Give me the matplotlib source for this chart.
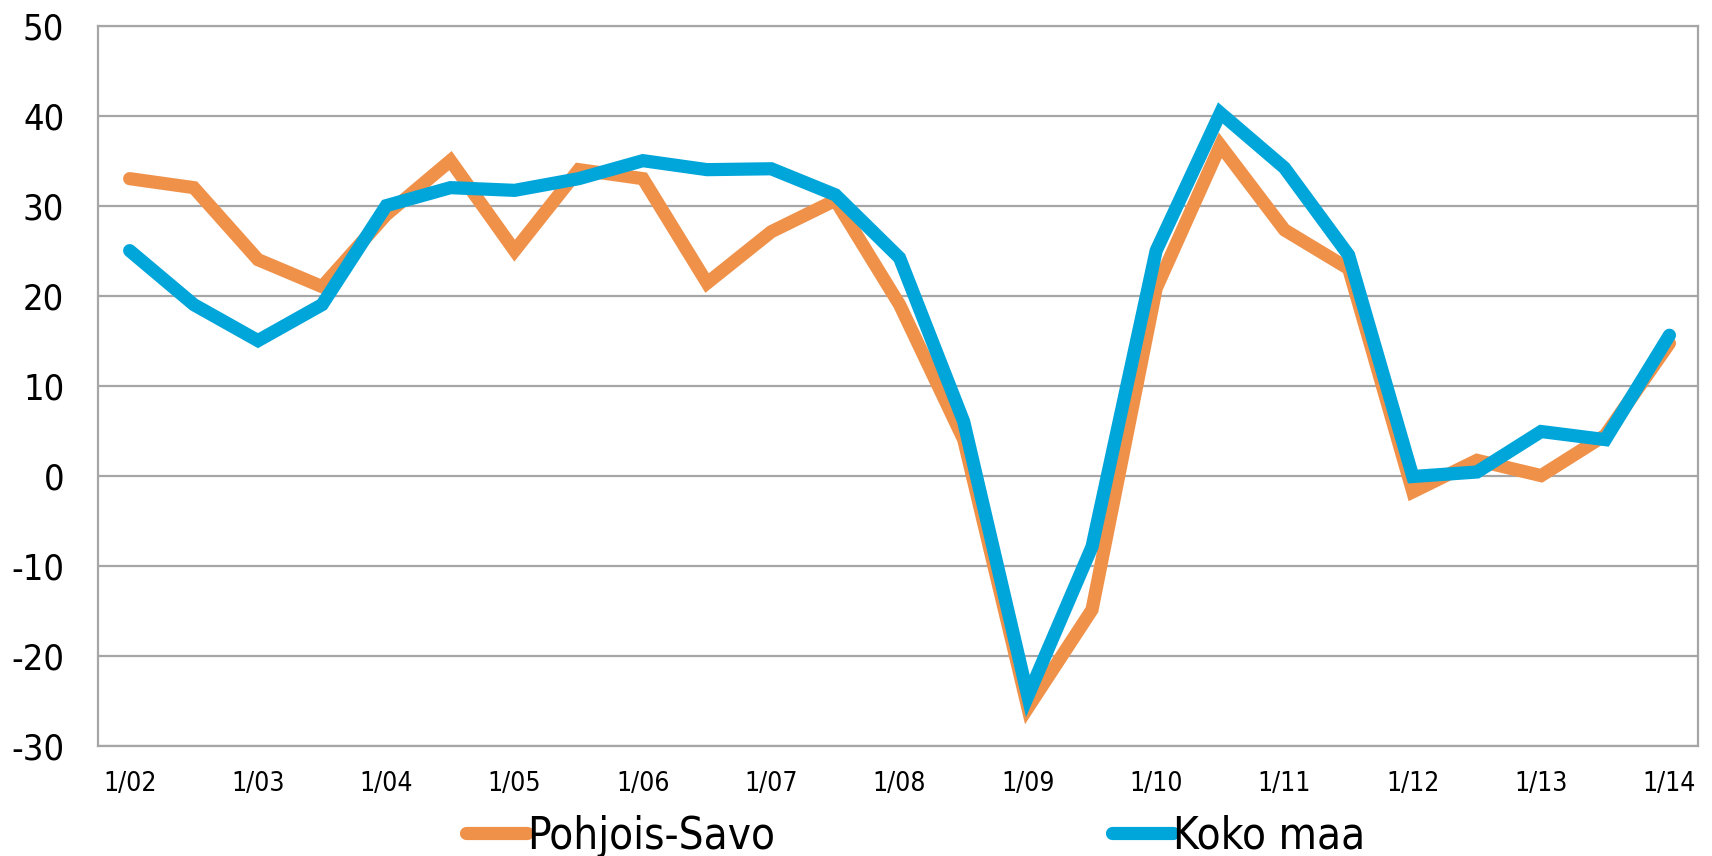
import numpy as np
import matplotlib
matplotlib.use('Agg')
import matplotlib.pyplot as plt

plt.rcParams['font.family'] = ['DejaVu Sans']
plt.rcParams['font.stretch'] = 'condensed'
plt.rcParams['axes.unicode_minus'] = False

# puolivuosittaiset havainnot 1/02 ... 1/14
jaksot = ['1/02', '7/02', '1/03', '7/03', '1/04', '7/04', '1/05', '7/05',
          '1/06', '7/06', '1/07', '7/07', '1/08', '7/08', '1/09', '7/09',
          '1/10', '7/10', '1/11', '7/11', '1/12', '7/12', '1/13', '7/13', '1/14']
pohjois_savo = [33, 32, 24, 21, 29, 35, 25, 34, 33, 21.4, 27.1, 30.6, 19,
                4, -25.8, -14.9, 20.8, 36.7, 27.3, 23, -1.8, 1.7, 0, 4.5, 14.7]
koko_maa = [25, 19, 15, 19, 30, 32, 31.7, 33, 35, 34, 34.1, 31.2, 24.2,
            6, -24.5, -7.9, 25, 40.3, 34.2, 24.5, -0.1, 0.4, 4.9, 4.0, 15.6]

x = np.arange(len(jaksot))

fig = plt.figure(figsize=(17.12, 8.56), dpi=100)
ax = fig.add_axes([0.057, 0.129, 0.935, 0.841])

ax.plot(x, pohjois_savo, color='#F0914A', lw=9.5, solid_capstyle='round',
        solid_joinstyle='miter', label='Pohjois-Savo', zorder=3)
ax.plot(x, koko_maa, color='#00A5DA', lw=9.5, solid_capstyle='round',
        solid_joinstyle='miter', label='Koko maa', zorder=4)

ax.set_xlim(-0.5, 24.45)
ax.set_ylim(-30, 50)
ax.set_yticks(range(-30, 51, 10))
ax.set_xticks(x[::2])
ax.set_xticklabels(jaksot[::2])
ax.yaxis.grid(True, color='#A6A6A6', lw=1.6)
ax.set_axisbelow(True)
for s in ax.spines.values():
    s.set_color('#A6A6A6')
    s.set_linewidth(1.6)
ax.tick_params(axis='y', length=0, labelsize=26, pad=24)
ax.tick_params(axis='x', length=0, labelsize=19, pad=18)

fig.legend(loc='center left', bbox_to_anchor=(0.272, 0.023), ncol=2,
           frameon=False, fontsize=31.5, handlelength=1.4, handletextpad=0.0,
           columnspacing=7.7, borderpad=0, borderaxespad=0)

fig.savefig('out.png', dpi=100)
